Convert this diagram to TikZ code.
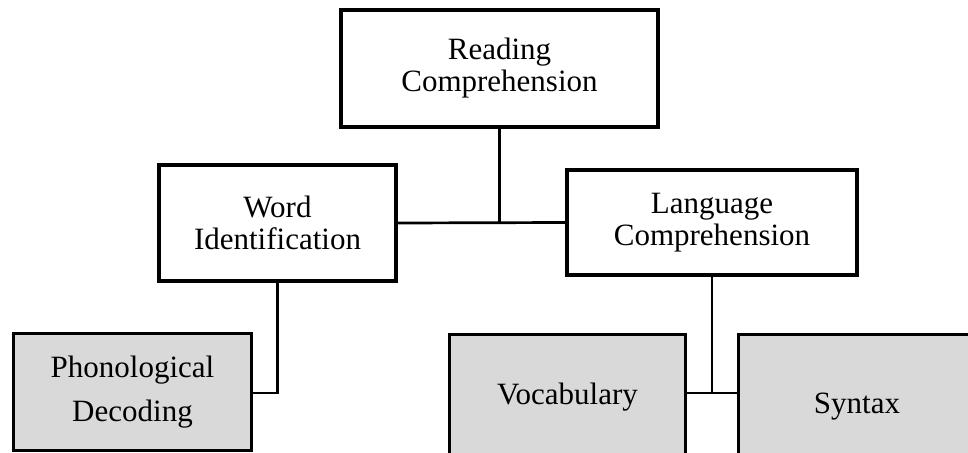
\documentclass[tikz,border=0pt]{standalone}
\usepackage{fontspec}
\setmainfont{Liberation Serif}
\definecolor{leafgray}{RGB}{217,217,217}

\begin{document}
\begin{tikzpicture}[x=1pt, y=-1pt,
  every box/.style={draw, line width=4pt, align=center, inner sep=0pt,
    font=\fontsize{31}{32}\selectfont},
  leaf box/.style={every box, line width=3pt, fill=leafgray},
  link/.style={line width=2.7pt}]

\useasboundingbox (0,0) rectangle (968,452);
\clip (0,0) rectangle (968,452);

% top
\node [every box, minimum width=317, minimum height=117] (reading) at (499.5,68.5) {Reading\\Comprehension};

% middle
\node [every box, minimum width=237, minimum height=116] (word) at (277.5,223) {Word\\Identification};
\node [every box, minimum width=290, minimum height=105] (language) at (712,222.5) {Language\\Comprehension};

% leaves
\node [leaf box, minimum width=238, minimum height=117] (phonology) at (132.5,392) {Phonological\\[12pt]Decoding};
\node [leaf box, minimum width=236, minimum height=125] (vocabulary) at (567.5,397) {Vocabulary};
\node [leaf box, minimum width=237, minimum height=145] (syntax) at (857,407) {Syntax};

% Connections
\coordinate (lowbar) at (712,393);

\draw [link] (word.east) -- (language.west);
\draw [link] (reading.south) -- (reading.south |- word.east);
\draw [link] (word.south) |- (phonology.east |- lowbar);
\draw [link] (language.south) -- (lowbar);
\draw [link] (vocabulary.east |- lowbar) -- (syntax.west |- lowbar);

\end{tikzpicture}
\end{document}
